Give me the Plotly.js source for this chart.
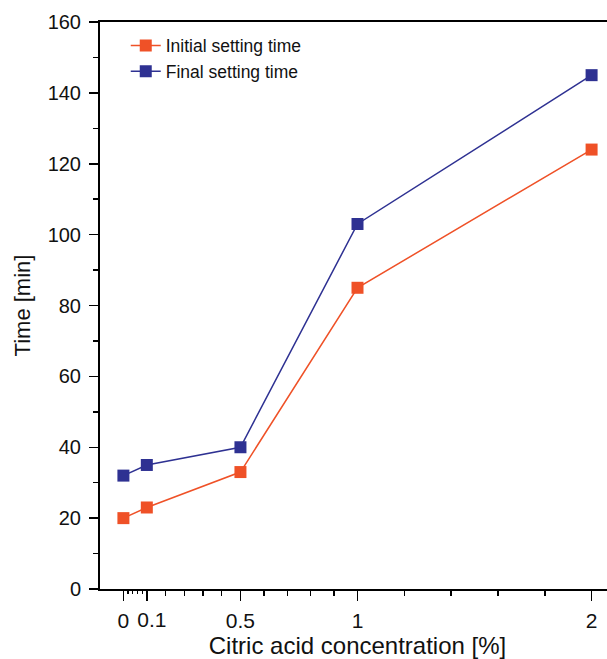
<!DOCTYPE html>
<html>
<head>
<meta charset="utf-8">
<script src="https://cdn.plot.ly/plotly-3.0.1.min.js"></script>
<style>
html, body { margin: 0; padding: 0; overflow: hidden; background: #fff; }
#chart { width: 615px; height: 659px; }
</style>
</head>
<body>
<div id="chart"></div>
<script>
const concentration = [0, 0.1, 0.5, 1, 2];
const initialSetting = [20, 23, 33, 85, 124];
const finalSetting = [32, 35, 40, 103, 145];
const xMajorTicks = [0, 0.1, 0.5, 1, 2];
const xMajorLabels = ['0', '', '0.5', '1', '2'];
const xShiftedTick = [0.1];
const xShiftedLabel = ['0.1'];
const xMinorTicks = [0.18, 0.26, 0.34, 0.42, 0.6, 0.7, 0.8, 0.9, 1.2, 1.4, 1.6, 1.8];
const xTinyTicks = [0.02, 0.04, 0.06, 0.08];
const seriesNames = ['Initial setting time', 'Final setting time'];

const font = 'Liberation Sans, Arial, sans-serif';
const orange = '#EF5127';
const blue = '#2E3192';

const traces = [
  {
    x: concentration, y: initialSetting, name: seriesNames[0],
    type: 'scatter', mode: 'lines+markers',
    line: { color: orange, width: 1.5 },
    marker: { symbol: 'square', size: 12, color: orange }
  },
  {
    x: concentration, y: finalSetting, name: seriesNames[1],
    type: 'scatter', mode: 'lines+markers',
    line: { color: blue, width: 1.5 },
    marker: { symbol: 'square', size: 12, color: blue }
  },
  {
    x: [null], y: [null], xaxis: 'x2', showlegend: false, hoverinfo: 'skip',
    type: 'scatter', mode: 'markers'
  },
  {
    x: [null], y: [null], xaxis: 'x3', showlegend: false, hoverinfo: 'skip',
    type: 'scatter', mode: 'markers'
  }
];

const layout = {
  width: 615, height: 659,
  margin: { l: 100, r: 0, t: 22, b: 70 },
  paper_bgcolor: '#fff', plot_bgcolor: '#fff',
  font: { family: font, color: '#111', size: 20 },
  showlegend: true,
  legend: {
    x: 0.05, y: 0.99, xanchor: 'left', yanchor: 'top',
    bgcolor: 'rgba(0,0,0,0)',
    font: { family: font, size: 17.5, color: '#111' },
    tracegroupgap: 0
  },
  xaxis: {
    range: [-0.1, 2.1],
    showgrid: false, zeroline: false,
    showline: true, linecolor: '#000', linewidth: 2, mirror: true,
    ticks: 'outside', ticklen: 10, tickwidth: 1.5, tickcolor: '#000',
    tickmode: 'array', tickvals: xMajorTicks, ticktext: xMajorLabels,
    tickangle: 0, ticklabelstandoff: 2,
    tickfont: { family: font, size: 21, color: '#111' },
    minor: { tickmode: 'array', tickvals: xMinorTicks, ticks: 'outside', ticklen: 5, tickwidth: 1.5, tickcolor: '#000', showgrid: false },
    title: { text: 'Citric acid concentration [%]', font: { family: font, size: 24, color: '#111' }, standoff: 8 }
  },
  xaxis2: {
    overlaying: 'x', anchor: 'y', side: 'bottom',
    range: [-0.1, 2.1],
    showgrid: false, zeroline: false, showline: false,
    ticks: 'outside', ticklen: 4, tickwidth: 1.2, tickcolor: '#000',
    tickmode: 'array', tickvals: xTinyTicks, showticklabels: false
  },
  xaxis3: {
    overlaying: 'x', anchor: 'y', side: 'bottom',
    range: [-0.1, 2.1],
    showgrid: false, zeroline: false, showline: false,
    ticks: 'outside', ticklen: 10, tickwidth: 1.5, tickcolor: 'rgba(0,0,0,0)',
    tickmode: 'array', tickvals: xShiftedTick, ticktext: xShiftedLabel,
    tickangle: 0, ticklabelstandoff: 2, ticklabelshift: 5,
    tickfont: { family: font, size: 21, color: '#111' }
  },
  yaxis: {
    range: [0, 160],
    showgrid: false, zeroline: false,
    showline: true, linecolor: '#000', linewidth: 2, mirror: false,
    ticks: 'outside', ticklen: 9, tickwidth: 1.5, tickcolor: '#000',
    tickmode: 'linear', tick0: 0, dtick: 20,
    ticklabelstandoff: 4,
    tickfont: { family: font, size: 20, color: '#111' },
    minor: { tickmode: 'linear', dtick: 10, ticks: 'outside', ticklen: 5, tickwidth: 1.5, tickcolor: '#000', showgrid: false },
    title: { text: 'Time [min]', font: { family: font, size: 22, color: '#111' }, standoff: 11 }
  }
};

Plotly.newPlot('chart', traces, layout, { staticPlot: true, displayModeBar: false });
</script>
</body>
</html>
